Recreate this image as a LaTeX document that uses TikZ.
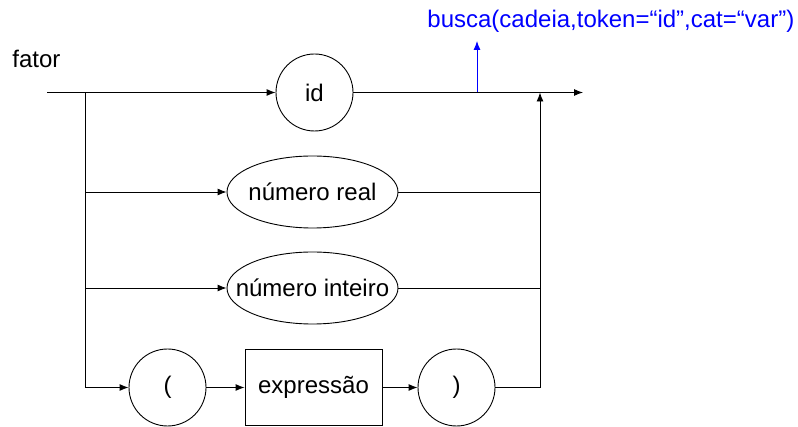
\documentclass[tikz,border=0pt]{standalone}
\usepackage{fontspec}
\setmainfont{Liberation Sans}
\usetikzlibrary{arrows.meta,shapes.geometric}
\begin{document}
\begin{tikzpicture}[x=1pt,y=-1pt,
  line width=0.9pt,
  every node/.style={font=\fontsize{24}{28}\selectfont},
  term/.style={draw,circle,minimum size=77pt,inner sep=0pt},
  ell/.style={draw,ellipse,minimum width=171pt,minimum height=72pt,inner sep=0pt},
  nonterm/.style={draw,rectangle,minimum width=137pt,minimum height=76pt,inner sep=0pt},
  arr/.style={-{Latex[length=9pt,width=7pt]}},
  lbl/.style={inner sep=0pt,anchor=base west}]
\useasboundingbox (0,0) rectangle (798,427);
\node[lbl] (fator) at (12,68) {fator};
\node[term] (id) at (314.5,92.5) {id};
\node[ell] (nr) at (312.5,192) {\makebox[0pt]{número real}};
\node[ell] (ni) at (312.5,288) {\makebox[0pt]{número inteiro}};
\node[term] (lp) at (167.5,387.5) {(};
\node[nonterm] (ex) at (313.5,387) {expressão};
\node[term] (rp) at (456.5,387.5) {)};
\node[lbl,text=blue] (busca) at (427,28) {busca(cadeia,token=“id”,cat=“var”)};
\coordinate (start) at (47,92.5);
\coordinate (b0) at (85,92.5);
\coordinate (b1) at (85,192);
\coordinate (b2) at (85,288);
\coordinate (m0) at (540,92.5);
\coordinate (m1) at (540,192);
\coordinate (m2) at (540,288);
\coordinate (m3) at (540,387.5);
\coordinate (endp) at (583,92.5);
\coordinate (bl) at (477,92.5);
\coordinate (blt) at (477,41);
\draw[arr] (start) -- (id.west);
\draw[arr] (id.east) -- (endp);
\draw[arr] (b0) |- (lp.west);
\draw[arr] (b1) -- (nr.west);
\draw[arr] (b2) -- (ni.west);
\draw (nr.east) -- (m1);
\draw (ni.east) -- (m2);
\draw[arr] (lp.east) -- (ex.west |- lp.east);
\draw[arr] (ex.east |- rp.west) -- (rp.west);
\draw[arr] (rp.east) -- (m3) -- (m0);
\draw[arr,blue] (bl) -- (blt);
\end{tikzpicture}
\end{document}
